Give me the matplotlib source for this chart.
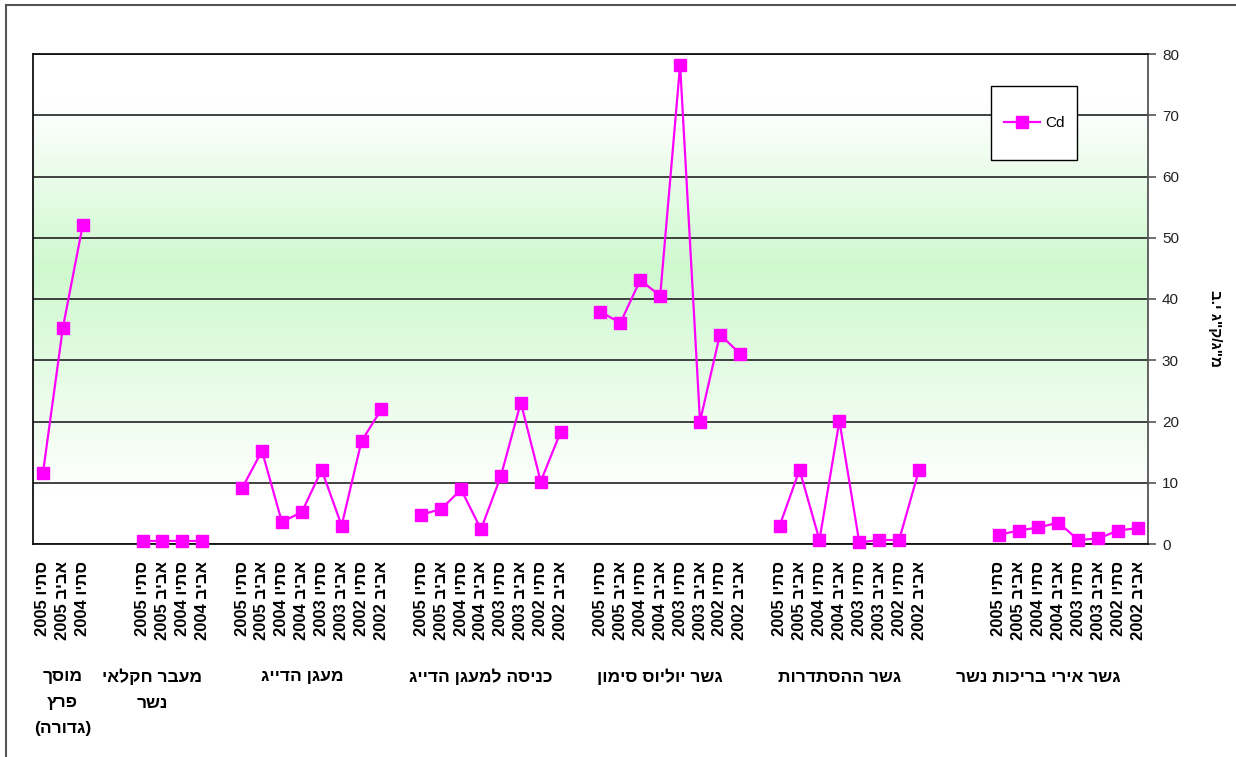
import numpy as np
import matplotlib
matplotlib.use("Agg")
import matplotlib.pyplot as plt
from matplotlib.patches import Rectangle
from matplotlib.lines import Line2D

# ---------------- data ----------------
group_names = [
    ["מוסך", "פרץ", "(גדורה)"],
    ["מעבר חקלאי", "נשר"],
    ["מעגן הדייג"],
    ["כניסה למעגן הדייג"],
    ["גשר יוליוס סימון"],
    ["גשר ההסתדרות"],
    ["גשר אירי בריכות נשר"],
]
seasons = ["סתיו 2005", "אביב 2005", "סתיו 2004", "אביב 2004",
           "סתיו 2003", "אביב 2003", "סתיו 2002", "אביב 2002"]

cd_mosach_peretz = [11.6, 35.3, 52.1]
cd_maavar_nesher = [0.5, 0.5, 0.5, 0.5]
cd_maagan_hadayag = [9.1, 15.2, 3.6, 5.2, 12.1, 3.0, 16.8, 22.0]
cd_knisa_maagan = [4.8, 5.7, 8.9, 2.4, 11.1, 23.1, 10.2, 18.3]
cd_gesher_yulius = [37.9, 36.1, 43.1, 40.5, 78.2, 20.0, 34.2, 31.1]
cd_gesher_histadrut = [3.0, 12.1, 0.65, 20.1, 0.25, 0.65, 0.65, 12.1]
cd_gesher_iri = [1.5, 2.2, 2.7, 3.5, 0.65, 0.9, 2.2, 2.6]

series = [cd_mosach_peretz, cd_maavar_nesher, cd_maagan_hadayag, cd_knisa_maagan,
          cd_gesher_yulius, cd_gesher_histadrut, cd_gesher_iri]
# empty category slots placed after each group (layout)
gap_after = [2, 1, 1, 1, 1, 3, 0]

y_label = 'מ"ג/ק"ג י.ב'

# ---------------- helpers ----------------
def vis(s):
    """Logical Hebrew -> visual order for LTR renderer."""
    r = s[::-1]
    out, buf = [], ""
    for ch in r:
        if ch.isdigit():
            buf += ch
        else:
            if buf:
                out.append(buf[::-1]); buf = ""
            out.append({"(": ")", ")": "("}.get(ch, ch))
    if buf:
        out.append(buf[::-1])
    return "".join(out)

FAM = ["Liberation Sans", "DejaVu Sans"]
plt.rcParams["font.family"] = FAM

# build slot arrays
yvals, xt, xl, centers = [], [], [], []
pos = 0
prev_end = -1
for vals, g in zip(series, gap_after):
    for i, v in enumerate(vals):
        yvals.append(v)
        xt.append(pos)
        xl.append(vis(seasons[i]))
        pos += 1
    end = pos - 1
    centers.append((prev_end + 1 + end) / 2)
    prev_end = end
    for _ in range(g):
        yvals.append(np.nan)
        pos += 1
nslots = pos
x = np.arange(nslots)
y = np.array(yvals, dtype=float)

# ---------------- figure ----------------
W, H = 1236, 757
fig = plt.figure(figsize=(W / 100, H / 100), dpi=100)
fig.patch.set_facecolor("white")
ax = fig.add_axes([33 / W, 1 - 544 / H, 1115 / W, 490 / H])

ymin, ymax = 0, 80
ax.set_xlim(-0.5, nslots - 0.5)
ax.set_ylim(ymin, ymax)

# gradient background
yy = np.linspace(ymin, ymax, 400)
w = np.where(yy > 45, np.clip((72 - yy) / 27, 0, 1), np.clip((yy - 8) / 37, 0, 1))
top = np.array([1.0, 1.0, 1.0])
green = np.array([0.81, 0.975, 0.81])
img = top[None, :] * (1 - w[:, None]) + green[None, :] * w[:, None]
img = np.repeat(img[:, None, :], 2, axis=1)
ax.imshow(img, origin="lower", extent=[-0.5, nslots - 0.5, ymin, ymax],
          aspect="auto", zorder=0, interpolation="bilinear")

# gridlines
ax.set_yticks(np.arange(0, 81, 10))
ax.grid(axis="y", color="#222222", lw=1.2, zorder=1)
ax.set_axisbelow(True)

ax.plot(x, y, color="#FF00FF", lw=1.6, marker="s", markersize=8.5,
        markeredgecolor="#FF00FF", zorder=3, clip_on=False)

# axes styling
ax.yaxis.tick_right()
ax.tick_params(axis="y", direction="out", length=6, width=1.2, color="#555555",
               labelsize=11, labelcolor="#222222", pad=4)
ax.set_xticks(xt)
ax.set_xticklabels(xl, rotation=90, fontsize=12, fontweight="bold", va="top")
ax.tick_params(axis="x", length=0, pad=12)
for s in ["left", "top", "bottom"]:
    ax.spines[s].set_color("#111111")
    ax.spines[s].set_linewidth(1.3)
ax.spines["right"].set_color("#555555")
ax.spines["right"].set_linewidth(1.3)

ax.text((1215 - 33) / 1115, (544 - 328) / 490, vis(y_label), transform=ax.transAxes,
        rotation=270, fontsize=11, fontweight="bold", ha="center", va="center",
        clip_on=False)

# group labels
trans = ax.get_xaxis_transform()
line_px = [677, 703, 728]
for c, lines in zip(centers, group_names):
    for k, ln in enumerate(lines):
        ax.text(c, (544 - line_px[k]) / 490, vis(ln), transform=trans,
                ha="center", va="center", fontsize=12.5, fontweight="bold",
                clip_on=False)

# legend box
lx0, lx1 = (991 - 33) / 1115, (1077 - 33) / 1115
ly1, ly0 = (544 - 86) / 490, (544 - 160) / 490
ax.add_patch(Rectangle((lx0, ly0), lx1 - lx0, ly1 - ly0, transform=ax.transAxes,
                       facecolor="white", edgecolor="black", lw=1.0, zorder=5))
h = Line2D([], [], color="#FF00FF", lw=1.6, marker="s", markersize=8)
leg = ax.legend([h], ["Cd"], loc="center", bbox_to_anchor=((lx0 + lx1) / 2, (ly0 + ly1) / 2),
                frameon=False, handlelength=2.4, handletextpad=0.3,
                prop={"family": ["Liberation Sans"], "size": 11})
leg.set_zorder(6)

# outer border
fig.patches.append(Rectangle((6 / W, -0.05), 2, 1 - 5 / H + 0.05, transform=fig.transFigure,
                             fill=False, edgecolor="#555555", lw=1.5))

fig.savefig("out.png", dpi=100, facecolor="white")
